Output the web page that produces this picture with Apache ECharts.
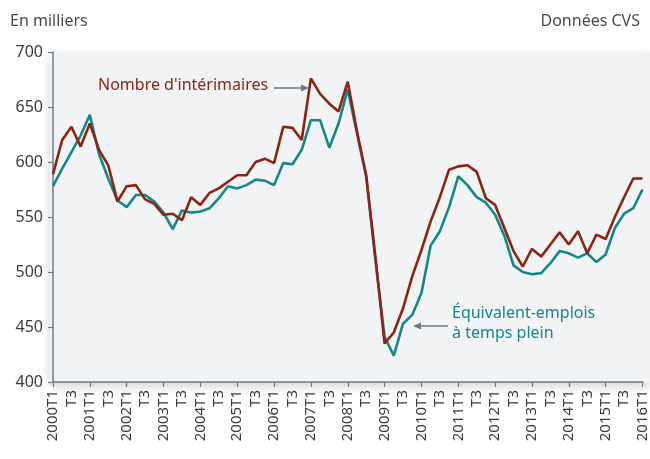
<!DOCTYPE html>
<html>
<head>
<meta charset="utf-8">
<script src="https://cdn.jsdelivr.net/npm/echarts@6/dist/echarts.min.js"></script>
<style>
html,body{margin:0;padding:0;background:#fff;}
#chart{width:650px;height:459px;}
</style>
</head>
<body>
<div id="chart"></div>
<script>
// Quarters 2000T1 .. 2016T1
var years = [2000,2001,2002,2003,2004,2005,2006,2007,2008,2009,2010,2011,2012,2013,2014,2015,2016];
var quarters = ['T1','T2','T3','T4'];
var categories = [];
years.forEach(function(y){ quarters.forEach(function(q){ if (y < 2016 || q === 'T1') categories.push(y + q); }); });

// Nombre d'intérimaires (milliers)
var interimaires = [589,620,632,614,635,611,597,564,578,579,566,562,552,553,547,568,561,572,576,582,
  588,588,600,603,599,632,631,620,676,662,653,646,673,628,588,514,435,445,467,496,
  520,546,568,593,596,597,591,567,561,540,519,505,521,514,525,536,525,537,517,534,
  530,550,568,585,585];
// Équivalent-emplois à temps plein (milliers)
var etp = [578,594,609,624,643,607,585,565,559,570,570,564,554,539,556,554,555,558,567,578,
  576,579,584,583,579,599,598,611,638,638,613,635,666,626,587,511,441,424,453,461,
  481,524,537,559,587,579,568,563,552,533,506,500,498,499,508,519,517,513,517,509,
  516,540,553,558,575];

var yTicks = {min:400, max:700, interval:50};
var textTitleLeft = 'En milliers';
var textTitleRight = 'Données CVS';
var labelInterim = "Nombre d'intérimaires";
var labelEtp = 'Équivalent-emplois\nà temps plein';

var RED = '#8c2410';
var TEAL = '#14868c';
var FONT = '"Noto Sans", "Open Sans", sans-serif';

var chart = echarts.init(document.getElementById('chart'), null, {renderer:'canvas'});
chart.setOption({
  animation:false,
  backgroundColor:'#ffffff',
  textStyle:{fontFamily:FONT},
  title:[
    {text:textTitleLeft, left:5, top:8, textStyle:{fontSize:16, fontWeight:'normal', color:'#4a4a4a', fontFamily:FONT}},
    {text:textTitleRight, right:5, top:8, textStyle:{fontSize:16, fontWeight:'normal', color:'#4a4a4a', fontFamily:FONT}}
  ],
  graphic:[
    {type:'rect', z:-10, shape:{x:50, y:52, width:600, height:330},
     style:{fill:'#f2f3f5', shadowBlur:10, shadowOffsetY:4, shadowColor:'rgba(0,0,0,0.18)'}},
    {type:'text', z:10, left:98, top:77, style:{text:labelInterim, fill:RED, font:'16px ' + FONT}},
    {type:'line', z:10, shape:{x1:274, y1:88, x2:303, y2:88}, style:{stroke:'#6d7b86', lineWidth:1.5}},
    {type:'polygon', z:10, shape:{points:[[309,88],[301,84.5],[301,91.5]]}, style:{fill:'#6d7b86'}},
    {type:'text', z:10, left:452, top:303, style:{text:labelEtp, fill:TEAL, font:'16px ' + FONT, lineHeight:20}},
    {type:'line', z:10, shape:{x1:420, y1:326, x2:448, y2:326}, style:{stroke:'#6d7b86', lineWidth:1.5}},
    {type:'polygon', z:10, shape:{points:[[413,326],[421,322.5],[421,329.5]]}, style:{fill:'#6d7b86'}}
  ],
  grid:{left:53, right:7, top:52, bottom:77, containLabel:false},
  xAxis:{
    type:'category', data:categories, boundaryGap:false,
    axisLine:{show:true, lineStyle:{color:'#6d7b86', width:1.5}},
    axisTick:{show:true, interval:3, length:5, lineStyle:{color:'#6d7b86', width:1.2}},
    axisLabel:{
      interval:1, rotate:90, margin:8, fontSize:15, color:'#3a3a3a', fontFamily:FONT,
      formatter:function(v){ return v.slice(4) === 'T1' ? v : v.slice(4); }
    },
    splitLine:{show:false}
  },
  yAxis:{
    type:'value', min:yTicks.min, max:yTicks.max, interval:yTicks.interval,
    axisLine:{show:true, lineStyle:{color:'#6d7b86', width:1.5}},
    axisTick:{show:true, length:5, lineStyle:{color:'#6d7b86', width:1.2}},
    axisLabel:{fontSize:16, color:'#3a3a3a', margin:10, fontFamily:FONT},
    splitLine:{show:false}
  },
  series:[
    {name:labelEtp, type:'line', data:etp, symbol:'none', lineStyle:{color:TEAL, width:2.6}, z:3},
    {name:labelInterim, type:'line', data:interimaires, symbol:'none', lineStyle:{color:RED, width:2.6}, z:4}
  ]
});
</script>
</body>
</html>
